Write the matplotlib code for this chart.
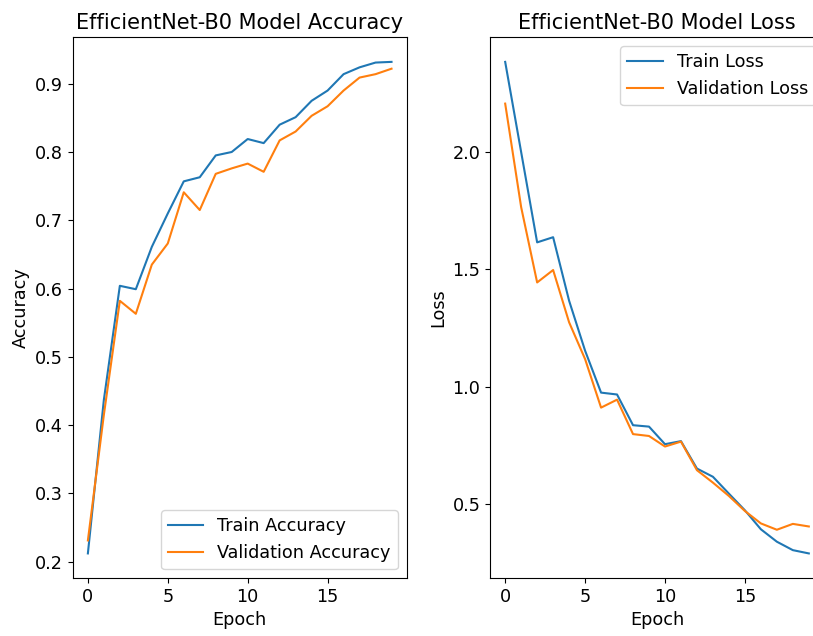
import numpy as np
import matplotlib
matplotlib.use('Agg')
import matplotlib.pyplot as plt

epochs = list(range(20))
train_acc = [0.212, 0.437, 0.604, 0.599, 0.661, 0.710, 0.757, 0.763, 0.795, 0.800,
             0.819, 0.813, 0.840, 0.851, 0.875, 0.890, 0.914, 0.924, 0.931, 0.932]
val_acc = [0.231, 0.415, 0.582, 0.563, 0.635, 0.666, 0.741, 0.715, 0.768, 0.776,
           0.783, 0.771, 0.817, 0.830, 0.853, 0.867, 0.890, 0.909, 0.914, 0.922]
train_loss = [2.385, 2.000, 1.615, 1.637, 1.366, 1.153, 0.974, 0.966, 0.835, 0.829,
              0.754, 0.767, 0.650, 0.615, 0.543, 0.472, 0.391, 0.338, 0.302, 0.288]
val_loss = [2.207, 1.765, 1.444, 1.497, 1.274, 1.117, 0.910, 0.944, 0.797, 0.789,
            0.744, 0.765, 0.643, 0.590, 0.533, 0.469, 0.416, 0.389, 0.414, 0.403]

FS = 12.7
TFS = 15
fig = plt.figure(figsize=(8.13, 6.36), dpi=100)
ax1 = fig.add_axes([72.7/813, 1 - 578/636, 334/813, (578 - 37.3)/636])
ax2 = fig.add_axes([490/813, 1 - 578/636, 334/813, (578 - 37.3)/636])

ax1.plot(epochs, train_acc, label='Train Accuracy')
ax1.plot(epochs, val_acc, label='Validation Accuracy')
ax1.set_title('EfficientNet-B0 Model Accuracy', fontsize=TFS)
ax1.set_xlabel('Epoch', fontsize=FS)
ax1.set_ylabel('Accuracy', fontsize=FS)
ax1.tick_params(labelsize=FS)
ax1.legend(loc='lower right', fontsize=FS)

ax2.plot(epochs, train_loss, label='Train Loss')
ax2.plot(epochs, val_loss, label='Validation Loss')
ax2.set_title('EfficientNet-B0 Model Loss', fontsize=TFS)
ax2.set_xlabel('Epoch', fontsize=FS)
ax2.set_ylabel('Loss', fontsize=FS)
ax2.tick_params(labelsize=FS)
ax2.legend(loc='upper right', fontsize=FS)

fig.savefig('out.png', dpi=100)
